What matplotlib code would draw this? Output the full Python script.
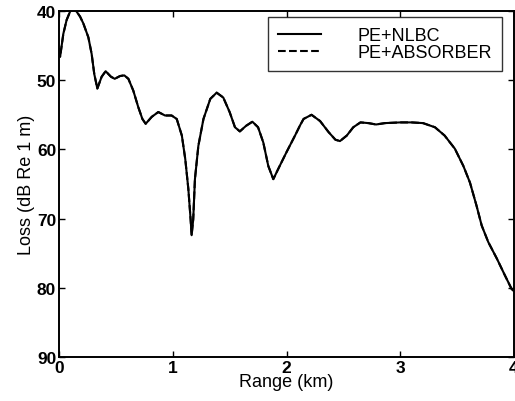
"""
Loss vs range: PE+NLBC and PE+ABSORBER (curves overlap).
"""
import matplotlib
matplotlib.use('Agg')
import matplotlib.pyplot as plt

# ===================== DATI =====================
range_km = [0.0, 0.01, 0.038, 0.067, 0.097, 0.126, 0.155, 0.185, 0.214,
            0.258, 0.287, 0.31, 0.337, 0.375, 0.41, 0.457, 0.49, 0.536,
            0.574, 0.61, 0.653, 0.697, 0.733, 0.762, 0.815, 0.873, 0.932,
            0.99, 1.035, 1.08, 1.11, 1.137, 1.157, 1.166, 1.18, 1.195,
            1.225, 1.27, 1.33, 1.386, 1.444, 1.50, 1.547, 1.59, 1.644,
            1.70, 1.75, 1.796, 1.84, 1.884, 1.928, 2.0, 2.075, 2.12,
            2.15, 2.22, 2.295, 2.37, 2.43, 2.47, 2.53, 2.587, 2.65,
            2.72, 2.787, 2.866, 3.0, 3.1, 3.2, 3.305, 3.39, 3.48,
            3.555, 3.613, 3.67, 3.716, 3.774, 3.85, 3.92, 3.98, 4.0]
loss_nlbc = [45.5, 46.6, 43.3, 41.3, 40.1, 39.6, 40.1, 40.8, 41.8,
             43.8, 46.2, 49.1, 51.2, 49.5, 48.7, 49.5, 49.8, 49.4,
             49.3, 49.8, 51.5, 53.9, 55.6, 56.3, 55.3, 54.6, 55.1,
             55.1, 55.6, 58.0, 61.4, 65.7, 70.1, 72.4, 70.1, 64.3,
             59.5, 55.6, 52.7, 51.8, 52.5, 54.6, 56.8, 57.4, 56.6,
             56.0, 56.8, 59.0, 62.4, 64.3, 62.8, 60.4, 58.0, 56.5,
             55.6, 55.0, 55.9, 57.5, 58.6, 58.8, 58.0, 56.8, 56.1,
             56.2, 56.4, 56.2, 56.1, 56.1, 56.2, 56.8, 58.0, 59.9,
             62.4, 64.8, 68.1, 71.0, 73.4, 75.8, 78.2, 80.2, 80.5]
# le due curve coincidono alla scala del grafico
loss_absorber = list(loss_nlbc)

x_ticks = [0, 1, 2, 3, 4]
y_ticks = [40, 50, 60, 70, 80, 90]
# ===============================================


def main():
    plt.rcParams['font.family'] = ['Liberation Sans', 'DejaVu Sans']
    fig = plt.figure(figsize=(5.15, 4.02), dpi=100)
    ax = fig.add_axes([59 / 515, 44 / 402, 455 / 515, 346 / 402])

    ax.plot(range_km, loss_nlbc, 'k-', lw=1.5, label='PE+NLBC')
    ax.plot(range_km, loss_absorber, 'k--', lw=1.5, label='PE+ABSORBER')

    ax.set_xlim(0, 4)
    ax.set_ylim(90, 40)
    ax.set_xticks(x_ticks)
    ax.set_yticks(y_ticks)
    ax.tick_params(direction='in', length=4, width=1, top=True, right=True,
                   labelsize=12.5, pad=2)
    for lab in ax.get_xticklabels() + ax.get_yticklabels():
        lab.set_fontweight('bold')
    for sp in ax.spines.values():
        sp.set_linewidth(1.4)

    ax.set_xlabel('Range (km)', fontsize=13, labelpad=-1)
    ax.set_ylabel('Loss (dB Re 1 m)', fontsize=13, labelpad=1)

    leg = ax.legend(loc='upper right', fontsize=13, frameon=True, fancybox=False,
                    edgecolor='k', handlelength=2.4, handletextpad=2.0,
                    labelspacing=0.0, borderpad=0.55, borderaxespad=0,
                    bbox_to_anchor=(0.9736, 0.9827))
    leg.get_frame().set_linewidth(1.0)

    fig.savefig('out.png', dpi=100)


if __name__ == '__main__':
    main()
